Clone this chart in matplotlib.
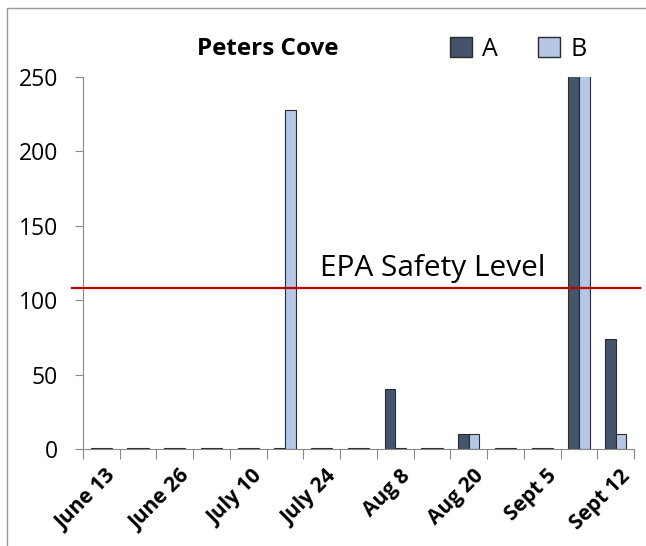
import numpy as np
import matplotlib.pyplot as plt
from matplotlib.patches import Rectangle, Patch
from matplotlib.transforms import ScaledTranslation

plt.rcParams['font.family'] = ['Open Sans', 'DejaVu Sans']

# one group per sampling date, only every second date is labelled
site_a = [1, 1, 1, 1, 1, 1, 1, 1, 40, 1, 10, 1, 1, 300, 74]
site_b = [1, 1, 1, 1, 1, 228, 1, 1, 1, 1, 10, 1, 1, 300, 10]
date_labels = ['June 13', 'June 26', 'July 10', 'July 24',
               'Aug 8', 'Aug 20', 'Sept 5', 'Sept 12']
epa_level = 108

fig = plt.figure(figsize=(6.46, 5.46), dpi=100)
ax = fig.add_axes([83/646, 97/546, (634-83)/646, (449-77)/546])

x = np.arange(len(site_a))
w = 0.29
ax.bar(x - w/2, site_a, w, color='#44546A', edgecolor='#2b2b2b', linewidth=0.8, label='A')
ax.bar(x + w/2, site_b, w, color='#B4C7E7', edgecolor='#2b2b2b', linewidth=0.8, label='B')

ax.set_xlim(-0.5, len(site_a) - 0.5)
ax.set_ylim(0, 250)
ax.set_yticks([0, 50, 100, 150, 200, 250])
ax.tick_params(axis='y', labelsize=16.5, length=6, color='#888888', pad=12)

# tick marks between groups, labels under every other group
ax.set_xticks(np.arange(-0.5, len(site_a), 1))
ax.set_xticklabels([])
ax.tick_params(axis='x', which='major', length=7, color='#888888')
ax.set_xticks(x[::2], minor=True)
ax.set_xticklabels(date_labels, minor=True, rotation=45, ha='right',
                   rotation_mode='anchor', fontsize=15, fontweight='bold')
ax.tick_params(axis='x', which='minor', length=0, pad=12)
shift = ScaledTranslation(4/100, 0, fig.dpi_scale_trans)
for lbl in ax.get_xticklabels(minor=True):
    lbl.set_transform(lbl.get_transform() + shift)

for s in ['top', 'right']:
    ax.spines[s].set_visible(False)
for s in ['left', 'bottom']:
    ax.spines[s].set_color('#888888')

ax.plot([-0.02, 1.01], [epa_level, epa_level], color='#C00000', linewidth=1.6,
        transform=ax.get_yaxis_transform(), clip_on=False, zorder=5)
ax.text((433 - 83) / 551, epa_level + 8, 'EPA Safety Level',
        transform=ax.get_yaxis_transform(), ha='center', va='baseline', fontsize=21.5)

fig.text(268/646, 1 - 49/546, 'Peters Cove', ha='center', va='center',
         fontsize=17.5, fontweight='bold')

handles = [Patch(facecolor='#44546A', edgecolor='#2b2b2b'),
           Patch(facecolor='#B4C7E7', edgecolor='#2b2b2b')]
fig.legend(handles, ['A', 'B'], loc='center', bbox_to_anchor=(518/646, 1 - 49/546),
           ncol=2, frameon=False, fontsize=18, handlelength=0.9, handleheight=0.9,
           handletextpad=0.4, columnspacing=1.6)

fig.patches.append(Rectangle((7/646, -0.1), 1.2, 1.1 - 8/546, transform=fig.transFigure,
                             fill=False, edgecolor='#999999', linewidth=1))

fig.savefig('out.png', dpi=100)
